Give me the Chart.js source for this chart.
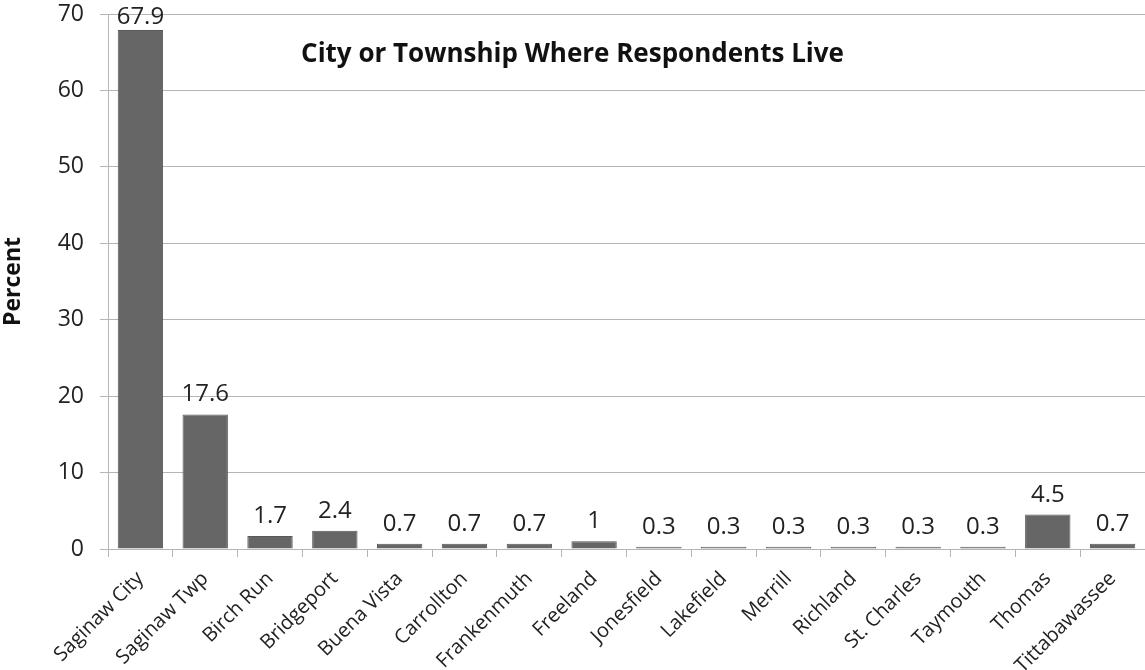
<!DOCTYPE html>
<html>
<head>
<meta charset="utf-8">
<script src="https://cdn.jsdelivr.net/npm/chart.js@4.4.1/dist/chart.umd.min.js"></script>
<style>
  html, body { margin: 0; padding: 0; background: #fff; }
  #wrap { width: 1145px; height: 670px; }
</style>
</head>
<body>
<div id="wrap"><canvas id="chart" width="1145" height="670"></canvas></div>
<script>
// --- DATA ---
const places = [
  'Saginaw City', 'Saginaw Twp', 'Birch Run', 'Bridgeport', 'Buena Vista',
  'Carrollton', 'Frankenmuth', 'Freeland', 'Jonesfield', 'Lakefield',
  'Merrill', 'Richland', 'St. Charles', 'Taymouth', 'Thomas', 'Tittabawassee'
];
const percent = [67.9, 17.6, 1.7, 2.4, 0.7, 0.7, 0.7, 1, 0.3, 0.3, 0.3, 0.3, 0.3, 0.3, 4.5, 0.7];
const yTicks = [0, 10, 20, 30, 40, 50, 60, 70];
const chartTitle = 'City or Township Where Respondents Live';

const FONT = "'Open Sans', 'DejaVu Sans', sans-serif";

// value labels above each bar
const barLabels = {
  id: 'barLabels',
  afterDatasetsDraw(chart) {
    const ctx = chart.ctx;
    const meta = chart.getDatasetMeta(0);
    ctx.save();
    ctx.font = '24px ' + FONT;
    ctx.fillStyle = '#222';
    ctx.textAlign = 'center';
    ctx.textBaseline = 'alphabetic';
    meta.data.forEach((bar, i) => {
      const y = Math.max(bar.y - 13, chart.chartArea.top + 10);
      ctx.fillText(String(percent[i]), bar.x, y);
    });
    ctx.restore();
  }
};

// title sits inside the plot
const innerTitle = {
  id: 'innerTitle',
  afterDraw(chart) {
    const ctx = chart.ctx;
    ctx.save();
    ctx.font = 'bold 26px ' + FONT;
    ctx.fillStyle = '#111';
    ctx.textAlign = 'center';
    ctx.textBaseline = 'middle';
    ctx.fillText(chartTitle, chart.width / 2, chart.chartArea.top + 41);
    ctx.restore();
  }
};

const ctx = document.getElementById('chart').getContext('2d');
new Chart(ctx, {
  type: 'bar',
  data: {
    labels: places,
    datasets: [{
      data: percent,
      backgroundColor: '#666666',
      borderColor: '#585858',
      borderWidth: 1,
      barPercentage: 0.7,
      categoryPercentage: 1.0
    }]
  },
  options: {
    responsive: false,
    animation: false,
    layout: { padding: { top: 14, right: 0, left: 0, bottom: 0 } },
    plugins: {
      legend: { display: false },
      tooltip: { enabled: false }
    },
    scales: {
      x: {
        grid: { display: true, drawOnChartArea: false, drawTicks: true, tickLength: 8, color: '#b5b5b5', offset: true },
        border: { color: '#b5b5b5' },
        ticks: { color: '#222', font: { family: FONT, size: 20 }, minRotation: 45, maxRotation: 45, autoSkip: false, padding: 10 },
        afterFit(scale) { scale.height = 121; scale.paddingLeft = 0; scale.paddingRight = 0; }
      },
      y: {
        min: 0, max: 70,
        afterBuildTicks(scale) { scale.ticks = yTicks.map(v => ({ value: v })); },
        grid: { color: '#b5b5b5', tickLength: 8 },
        border: { color: '#b5b5b5' },
        ticks: { color: '#222', font: { family: FONT, size: 23 }, padding: 16 },
        title: { display: true, text: 'Percent', color: '#111', font: { family: FONT, size: 23, weight: 'bold' }, padding: { top: 0, bottom: 0 } },
        afterFit(scale) { scale.width = 108; scale.paddingTop = 0; scale.paddingBottom = 0; }
      }
    }
  },
  plugins: [barLabels, innerTitle]
});
</script>
</body>
</html>
